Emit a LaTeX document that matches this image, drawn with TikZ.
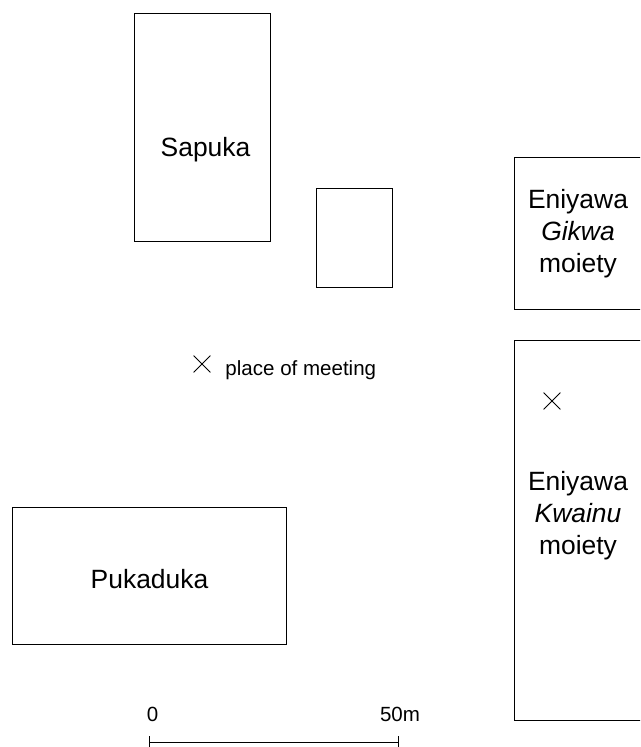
\documentclass[tikz,border=0pt]{standalone}
\usepackage{fontspec}
\setmainfont{Liberation Sans}
\usetikzlibrary{shapes.misc,arrows.meta}
\begin{document}
\begin{tikzpicture}[x=0.025cm, y=-0.025cm, line width=0.7pt]
				\tikzstyle{hut}=[draw, inner sep=0pt, line width=0.7pt]
				\tikzstyle{big}=[font=\fontsize{18.8}{22.8}\selectfont, inner sep=0pt, align=center]
				\tikzstyle{small}=[font=\fontsize{14.6}{17}\selectfont, inner sep=0pt]
				\tikzstyle{xmark}=[cross out, draw, minimum size=0.4cm, inner sep=0pt, line width=0.6pt]
				\useasboundingbox (0,0) rectangle (640,747);
				\clip (0,0) rectangle (640,747);
				\draw 
				node[hut, minimum width=136*0.025cm, minimum height=228*0.025cm](sapuka)at(202,127){}
				node[hut, minimum width=76*0.025cm, minimum height=99*0.025cm](hut)at(354,237.5){}
				node[hut, minimum width=170*0.025cm, minimum height=152*0.025cm](gikwa)at(599,233){}
				node[hut, minimum width=170*0.025cm, minimum height=380*0.025cm](kwainu)at(599,530){}
				node[hut, minimum width=274*0.025cm, minimum height=137*0.025cm](pukaduka)at(149,575.5){};
				
				\draw 
				node[big, anchor=base](L1)at(205.5,157){Sapuka}
				node[big, anchor=base](L2)at(149.5,588){Pukaduka}
				node[big](L3)at(578,234){Eniyawa\\\textit{Gikwa}\\moiety}
				node[big](L4)at(578,516){Eniyawa\\\textit{Kwainu}\\moiety}
				node[xmark](M1)at(202,364){}
				node[xmark](M2)at(552,401){}
				node[small, anchor=base west](T1)at(225,375){place of meeting}
				node[small](S0)at(152.5,714){0}
				node[small](S1)at(400,714){50m}
				coordinate(B0)at(149,742)
				coordinate(B1)at(399,742);
				
				\draw[{Bar[width=8.5pt]}-{Bar[width=8.5pt]}, line width=0.6pt](B0)--(B1);
				\end{tikzpicture}
\end{document}
